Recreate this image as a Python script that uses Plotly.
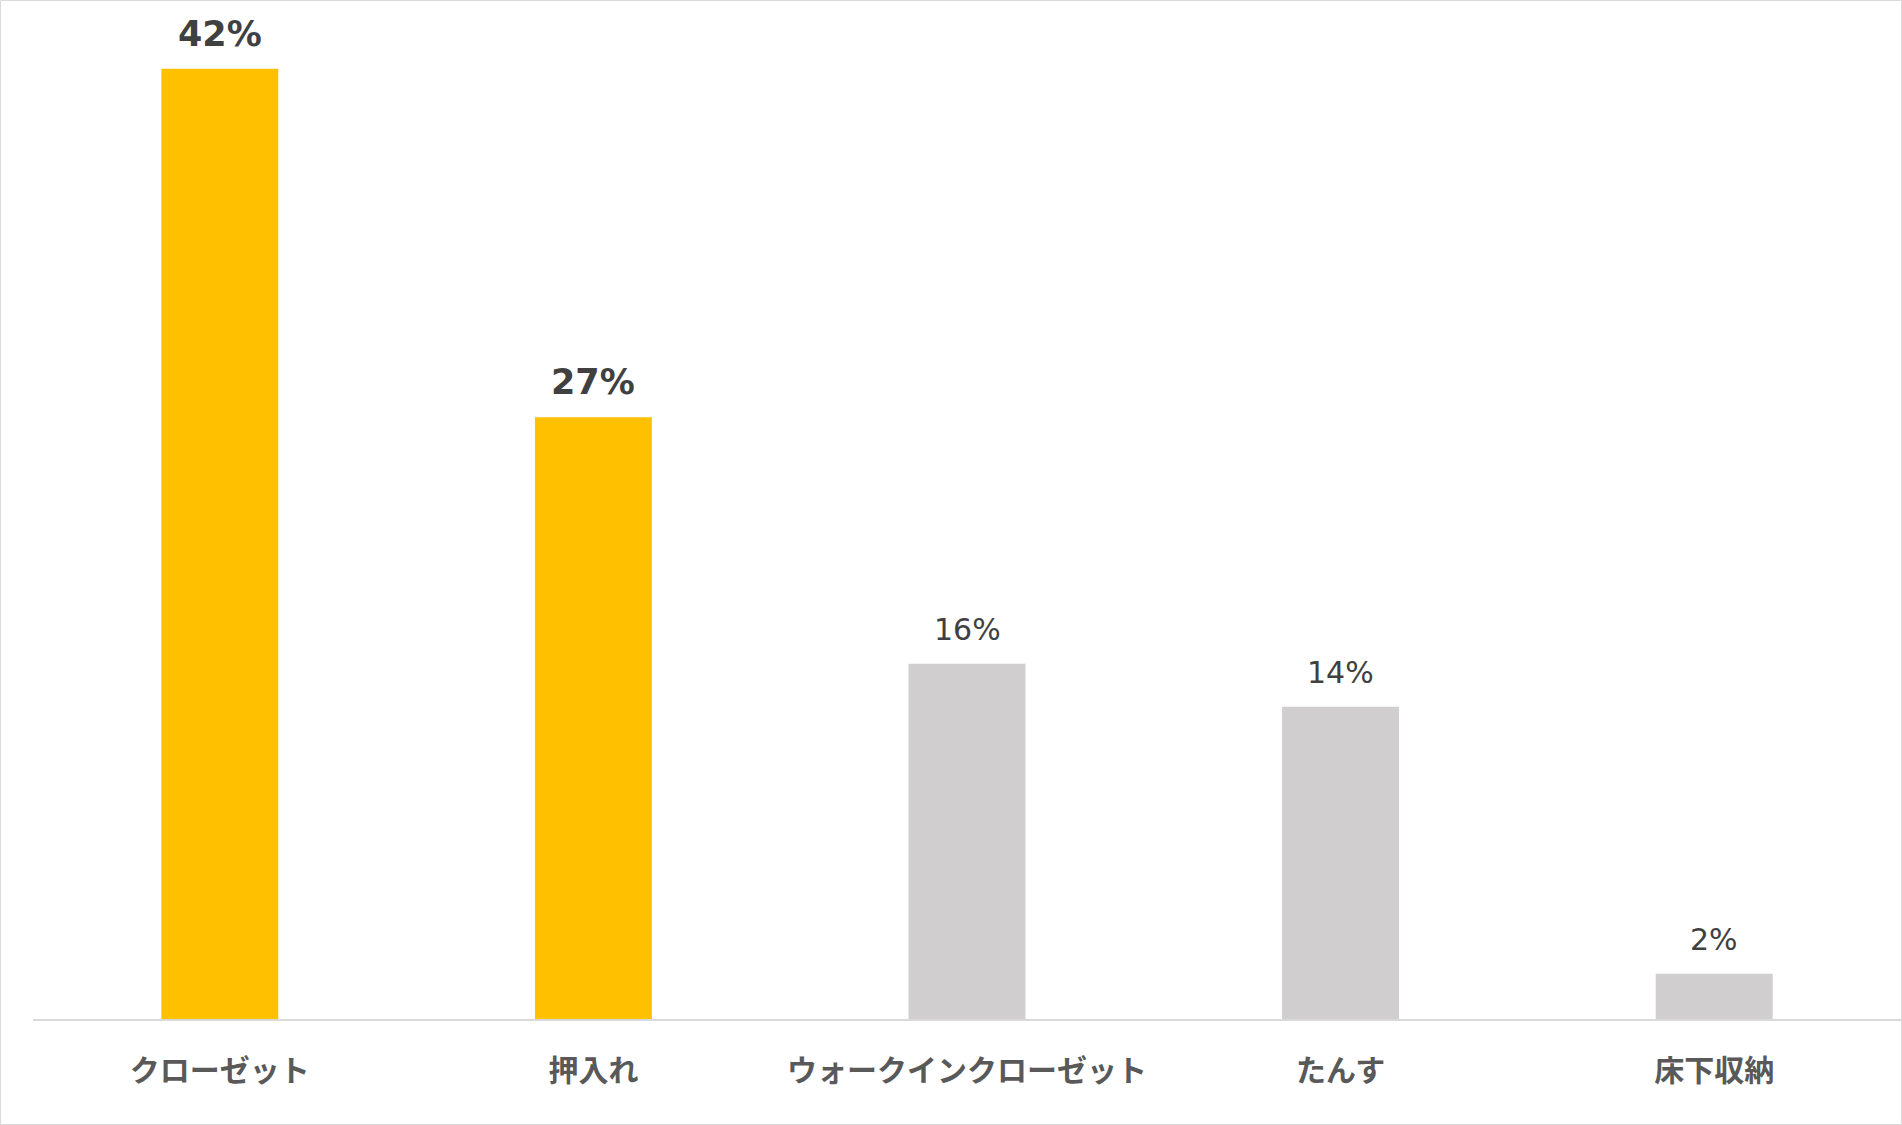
import plotly.graph_objects as go

# 収納場所の割合（%）
categories = ["クローゼット", "押入れ", "ウォークインクローゼット", "たんす", "床下収納"]
values = [42.0, 26.6, 15.7, 13.8, 2.0]
labels = ["42%", "27%", "16%", "14%", "2%"]
highlight = [True, True, False, False, False]

W, H = 1902, 1125
ml, mr, mt, mb = 33, 1, 1, 106
pw, ph = W - ml - mr, H - mt - mb

colors = ["#FFC000" if h else "#D0CECE" for h in highlight]

fig = go.Figure(go.Bar(x=categories, y=values, marker_color=colors,
                       marker_line_width=0, hoverinfo="skip"))

for c, v, t, h in zip(categories, values, labels, highlight):
    fig.add_annotation(
        x=c, y=v, text=t, showarrow=False, yanchor="bottom",
        yshift=13 if h else 15,
        font=dict(family="DejaVu Sans", size=35 if h else 30, color="#404040",
                  weight="bold" if h else "normal"),
    )

# outer frame
fig.add_shape(type="rect", xref="paper", yref="paper",
              x0=-(ml - 0.5) / pw, x1=1 + 0.5 / pw,
              y0=-(mb - 0.5) / ph, y1=1 + 0.5 / ph,
              line=dict(color="#D9D9D9", width=1), layer="below")

fig.update_layout(
    width=W, height=H,
    margin=dict(l=ml, r=mr, t=mt, b=mb),
    paper_bgcolor="white", plot_bgcolor="white",
    bargap=0.687, showlegend=False,
    xaxis=dict(showline=True, linecolor="#D9D9D9", linewidth=1.5,
               ticks="", showgrid=False, ticklabelstandoff=24,
               tickfont=dict(family="Noto Sans CJK JP", size=30, color="#595959",
                             weight="bold")),
    yaxis=dict(range=[0, 45], visible=False, showgrid=False),
)

fig.write_html("out.html", config={"displayModeBar": False},
               post_script="document.body.style.margin='0';document.body.style.overflow='hidden';")
